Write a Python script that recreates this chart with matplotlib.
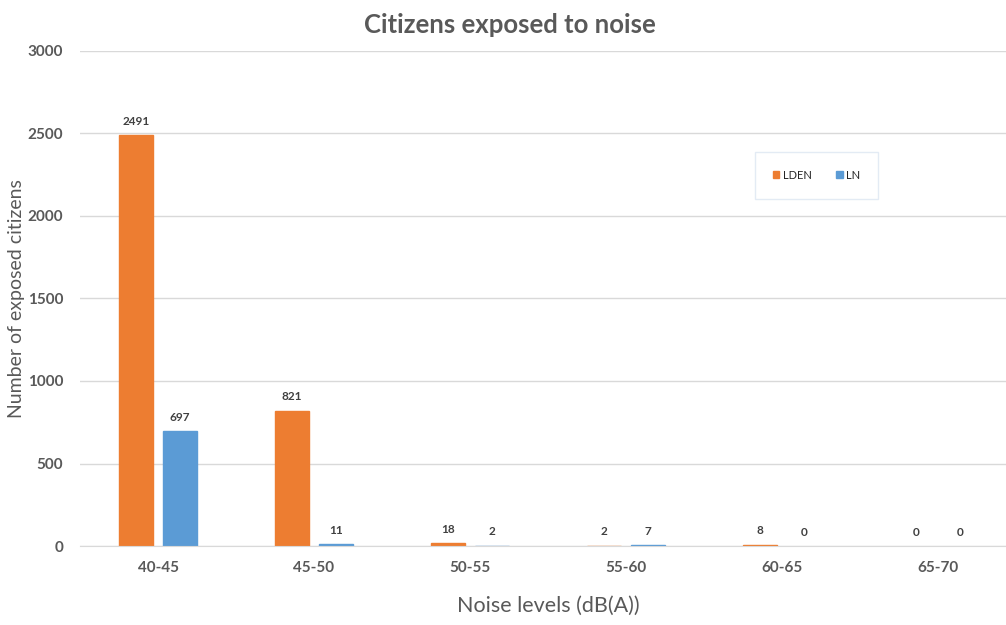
import numpy as np
import matplotlib
matplotlib.use("Agg")
import matplotlib.pyplot as plt

plt.rcParams['font.family'] = ['Lato', 'DejaVu Sans']

levels = ["40-45", "45-50", "50-55", "55-60", "60-65", "65-70"]
lden = [2491, 821, 18, 2, 8, 0]
ln = [697, 11, 2, 7, 0, 0]

orange = "#ED7D31"
blue = "#5B9BD5"
grey = "#595959"

fig = plt.figure(figsize=(10.06, 6.25), dpi=100)
# the plot area runs a little past the right edge of the picture
ax = fig.add_axes([80 / 1006, 79 / 625, 936 / 1006, 495 / 625])

x = np.arange(len(levels))
w = 0.224
off = 0.141
b1 = ax.bar(x - off, lden, w, color=orange, edgecolor=orange, label="LDEN")
b2 = ax.bar(x + off, ln, w, color=blue, edgecolor=blue, label="LN")

for bars, vals in ((b1, lden), (b2, ln)):
    for b, v in zip(bars, vals):
        # tiny non-zero bars still show as a thin line, like in Excel
        b.set_linewidth(1.0 if v > 0 else 0)
        ax.annotate(str(v), (b.get_x() + b.get_width() / 2, v),
                    xytext=(0, 6), textcoords="offset points",
                    ha="center", va="bottom", fontsize=8.5,
                    fontweight="bold", color="#404040")

ax.set_ylim(0, 3000)
ax.set_xlim(-0.5, 5.5)
ax.set_yticks(range(0, 3001, 500))
ax.set_xticks(x)
ax.set_xticklabels(levels)
ax.grid(axis="y", color="#D9D9D9", linewidth=1)
ax.set_axisbelow(True)
for s in ("top", "right", "left"):
    ax.spines[s].set_visible(False)
ax.spines["bottom"].set_color("#D9D9D9")
ax.tick_params(length=0, colors=grey, labelsize=11)
ax.tick_params(axis="x", pad=11)
ax.tick_params(axis="y", pad=12)
for t in ax.get_xticklabels() + ax.get_yticklabels():
    t.set_fontweight("bold")

ax.set_xlabel("Noise levels (dB(A))", fontsize=15.5, color=grey, labelpad=15)
ax.set_ylabel("Number of exposed citizens", fontsize=14, color=grey, labelpad=2)
fig.text(0.507, 0.96, "Citizens exposed to noise", ha="center", va="center",
         fontsize=18.5, fontweight="bold", color=grey)

leg = ax.legend(loc="upper left", bbox_to_anchor=(675 / 936, (546 - 152) / 495),
                ncol=2, fontsize=8, frameon=True, fancybox=False,
                borderaxespad=0, handlelength=0.6, handleheight=0.6,
                columnspacing=2.2, handletextpad=0.3, borderpad=1.6)
leg.get_frame().set_edgecolor("#DCE6F2")
leg.get_frame().set_linewidth(1)
for t in leg.get_texts():
    t.set_color("#262626")

fig.savefig("out.png", dpi=100)
